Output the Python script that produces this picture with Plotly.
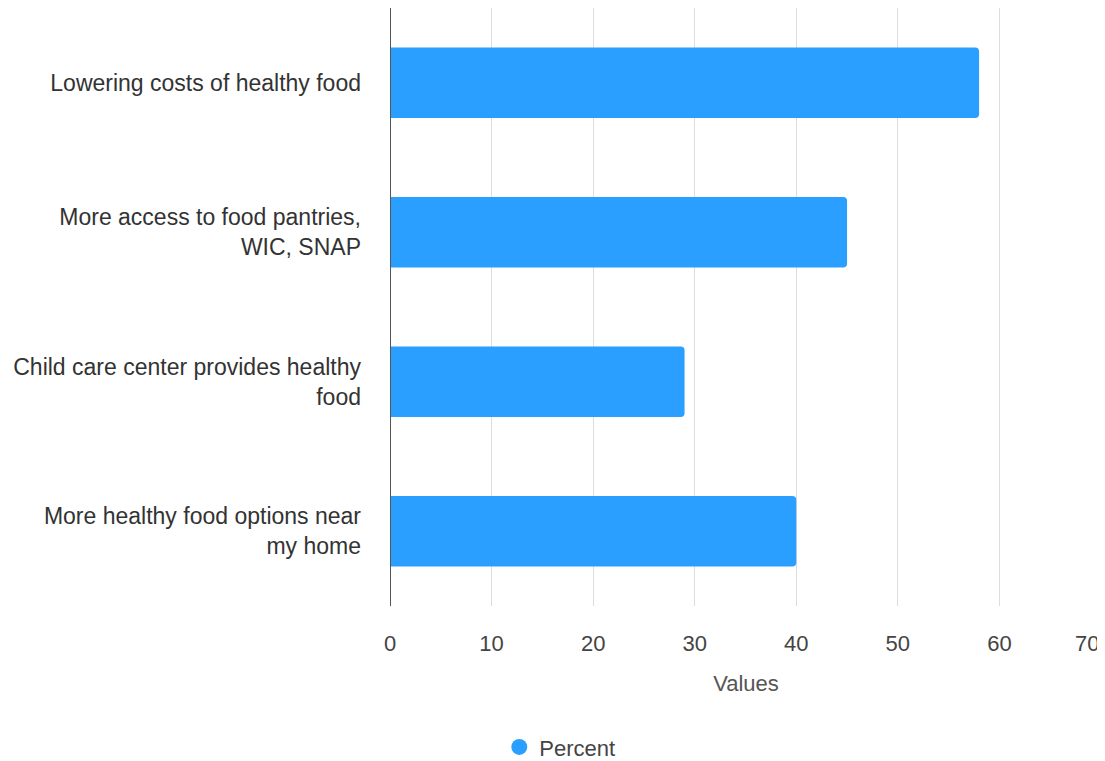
import plotly.graph_objects as go

categories = [
    "Lowering costs of healthy food",
    "More access to food pantries,<br>WIC, SNAP",
    "Child care center provides healthy<br>food",
    "More healthy food options near<br>my home",
]
values = [58, 45, 29, 40]
series_name = "Percent"
x_ticks = [0, 10, 20, 30, 40, 50, 60, 70]
x_tick_labels = [str(t) for t in x_ticks]

color = "#2B9FFF"
font_family = "Liberation Sans, Arial, sans-serif"

fig = go.Figure()
fig.add_trace(go.Bar(
    y=categories, x=values, orientation="h", name=series_name,
    marker=dict(color=color, cornerradius=4, line=dict(width=0)),
    showlegend=False,
))
fig.add_trace(go.Scatter(
    x=[None], y=[None], mode="markers", name=series_name,
    marker=dict(symbol="circle", size=24, color=color),
    showlegend=True,
))

# last tick label is right-aligned to stay inside the picture
tick_text = x_tick_labels[:-1] + [""]

fig.update_layout(
    width=1097, height=753,
    margin=dict(l=382, r=3, t=0, b=155, autoexpand=False),
    plot_bgcolor="white", paper_bgcolor="white",
    font=dict(family=font_family, size=22, color="#444"),
    bargap=0.53,
    showlegend=True,
    legend=dict(orientation="h", x=0.503, xanchor="center", xref="container",
                y=-0.236, yanchor="middle", yref="paper",
                font=dict(size=22, color="#444")),
    xaxis=dict(
        range=[0, 70.1], tickvals=x_ticks, ticktext=tick_text,
        showgrid=True, gridcolor="#dddddd",
        gridwidth=1, zeroline=False, showline=False, tickangle=0,
        ticklabelstandoff=22,
        title=dict(text="Values", standoff=20, font=dict(size=22, color="#555")),
        tickfont=dict(size=22, color="#444"),
    ),
    yaxis=dict(
        autorange="reversed", showgrid=False, zeroline=False,
        showline=False, ticklabelstandoff=28,
        tickfont=dict(size=23, color="#333"),
    ),
    annotations=[dict(
        x=x_ticks[-1], xref="x", y=0, yref="paper", text=x_tick_labels[-1],
        xanchor="right", yanchor="middle", yshift=-37, showarrow=False,
        font=dict(size=22, color="#444"),
    )],
    shapes=[dict(type="line", xref="x", yref="paper", x0=0, x1=0, y0=0, y1=1,
                 line=dict(color="#555555", width=2))],
)

fig.write_html("out.html")
